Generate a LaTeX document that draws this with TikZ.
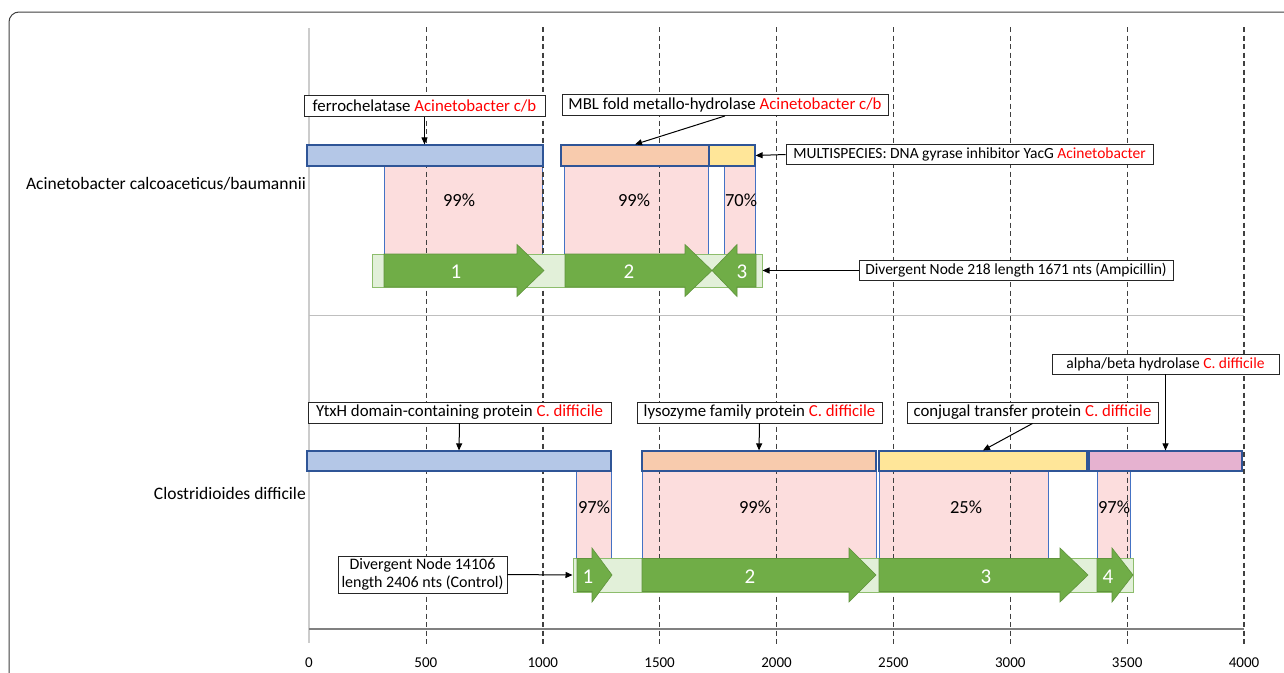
\documentclass[tikz,border=0pt]{standalone}
\usepackage{fontspec}
\setmainfont{Carlito}
\usetikzlibrary{arrows.meta}
\definecolor{barblue}{HTML}{B4C7E7}
\definecolor{barorange}{HTML}{F8CBAD}
\definecolor{baryellow}{HTML}{FFE699}
\definecolor{barpurple}{HTML}{E6B2D0}
\definecolor{edgeblue}{HTML}{2F5597}
\definecolor{pinkfill}{HTML}{FCDDDD}
\definecolor{pinkedge}{HTML}{4472C4}
\definecolor{gdark}{HTML}{70AD47}
\definecolor{glight}{HTML}{E2F0D9}
\definecolor{gridc}{HTML}{404040}
\definecolor{redtxt}{HTML}{FF0000}
\newcommand{\garR}[5]{% x1, x2, yc, headlen, half-head
  \fill[garrow] (#1,#3-16.5) -- (#2-#4,#3-16.5) -- (#2-#4,#3-#5) -- (#2,#3) -- (#2-#4,#3+#5) -- (#2-#4,#3+16.5) -- (#1,#3+16.5) -- cycle;}
\newcommand{\garL}[5]{% x1 (tip), x2 (tail), yc, headlen, half-head
  \fill[garrow] (#2,#3-16.5) -- (#1+#4,#3-16.5) -- (#1+#4,#3-#5) -- (#1,#3) -- (#1+#4,#3+#5) -- (#1+#4,#3+16.5) -- (#2,#3+16.5) -- cycle;}
\begin{document}
\begin{tikzpicture}[x=1pt,y=-1pt,
  bar/.style={draw=edgeblue, line width=1.2pt, inner sep=0pt, minimum height=20pt},
  hit/.style={draw=pinkedge, fill=pinkfill, line width=1pt, inner sep=0pt},
  lab/.style={draw=black!85, fill=white, line width=0.9pt, font=\fontsize{16.8}{18}\selectfont, inner sep=0pt, minimum height=21pt},
  labsm/.style={lab, font=\fontsize{15.5}{17}\selectfont, minimum height=20pt},
  conn/.style={-{Triangle[length=7pt,width=6pt]}, line width=1pt, black},
  pct/.style={font=\fontsize{18.5}{20}\selectfont, inner sep=0pt},
  num/.style={text=white, font=\fontsize{21}{24}\selectfont, inner sep=0pt},
  gdash/.style={gridc, line width=1.1pt, dash pattern=on 5pt off 3.5pt},
  track/.style={draw=gdark!80, fill=glight, line width=1pt, inner sep=0pt},
  garrow/.style={fill=gdark, draw=gdark!85!black, line width=0.6pt},
  rowlab/.style={font=\fontsize{17.5}{19}\selectfont, anchor=east, inner sep=0pt},
  axlab/.style={font=\fontsize{15}{17}\selectfont, inner sep=0pt}
]
\useasboundingbox (0,0) rectangle (1284,672);
\clip (0,0) rectangle (1284,672);
\fill[white] (0,0) rectangle (1284,672);
\draw[gridc, line width=1pt, rounded corners=10pt] (9,12) rectangle (1310,700);

% hit boxes
\node[hit, minimum width=158pt, minimum height=88pt] (h1) at (463,210) {};
\node[hit, minimum width=144pt, minimum height=88pt] (h2) at (636,210) {};
\node[hit, minimum width=31pt, minimum height=88pt] (h3) at (739.5,210) {};
\node[hit, minimum width=35pt, minimum height=87pt] (h4) at (594,514.5) {};
\node[hit, minimum width=234pt, minimum height=87pt] (h5) at (759,514.5) {};
\node[hit, minimum width=169pt, minimum height=87pt] (h6) at (963.5,514.5) {};
\node[hit, minimum width=33pt, minimum height=87pt] (h7) at (1113.5,514.5) {};

% grid
\draw[black!20, line width=1.5pt] (309,28) -- (309,643);
\draw[black!25, line width=1pt] (309,315) -- (1244,315);
\draw[black!50, line width=2pt] (309,629) -- (1244,629);
\foreach \k in {1,...,8} {
  \draw[gdash] ({309.4+\k*116.82},27) -- ({309.4+\k*116.82},645);
}
\foreach \k in {0,...,8} {
  \pgfmathtruncatemacro{\v}{\k*500}
  \node[axlab] (ax\k) at ({309+\k*116.875},663) {\v};
}

% percent labels
\node[pct] (p1) at (459,200) {99\%};
\node[pct] (p2) at (634,200) {99\%};
\node[pct] (p3) at (741,200) {70\%};
\node[pct] (p4) at (594,507) {97\%};
\node[pct] (p5) at (755,507) {99\%};
\node[pct] (p6) at (966,507) {25\%};
\node[pct] (p7) at (1114,507) {97\%};

% bars top
\node[bar, fill=barblue, minimum width=236pt, minimum height=21pt] (ab1) at (425,155.5) {};
\node[bar, fill=barorange, minimum width=148pt, minimum height=21pt] (ab2) at (635,155.5) {};
\node[bar, fill=baryellow, minimum width=46pt, minimum height=21pt] (ab3) at (732,155.5) {};
% bars bottom
\node[bar, fill=barblue, minimum width=304pt] (cb1) at (459,461) {};
\node[bar, fill=barorange, minimum width=234pt] (cb2) at (759,461) {};
\node[bar, fill=baryellow, minimum width=208pt] (cb3) at (983,461) {};
\node[bar, fill=barpurple, minimum width=153pt] (cb4) at (1165.5,461) {};

% tracks
\node[track, minimum width=390pt, minimum height=33pt] (t1) at (567,270.5) {};
\node[track, minimum width=560pt, minimum height=34pt] (t2) at (853,575) {};

% green gene arrows
\garR{384}{544}{270.5}{27}{26}
\garR{565}{712}{270.5}{27}{26}
\garL{712}{756}{270.5}{25}{26}
\garR{577}{612}{575}{20}{27}
\garR{642}{876}{575}{27}{27}
\garR{879}{1088}{575}{28}{27}
\garR{1097}{1133}{575}{21}{27}
\node[num] (n1) at (456,272) {1};
\node[num] (n2) at (629,272) {2};
\node[num] (n3) at (742,272) {3};
\node[num] (n4) at (588,577) {1};
\node[num] (n5) at (750,577) {2};
\node[num] (n6) at (986,577) {3};
\node[num] (n7) at (1108,577) {4};

% row labels
\node[rowlab] (r1) at (306,184) {Acinetobacter calcoaceticus/baumannii};
\node[rowlab] (r2) at (306,493) {Clostridioides difficile};

% annotation boxes
\node[lab, minimum width=241pt] (l1) at (424.5,106) {ferrochelatase \textcolor{redtxt}{Acinetobacter c/b}};
\node[lab, minimum width=326pt] (l2) at (725,105) {MBL fold metallo-hydrolase \textcolor{redtxt}{Acinetobacter c/b}};
\node[labsm, minimum width=367pt] (l3) at (969.5,154.5) {MULTISPECIES: DNA gyrase inhibitor YacG \textcolor{redtxt}{Acinetobacter}};
\node[labsm, minimum width=314pt] (l4) at (1016,270.5) {Divergent Node 218 length 1671 nts (Ampicillin)};
\node[lab, minimum width=303pt] (l5) at (459.5,412.5) {YtxH domain-containing protein \textcolor{redtxt}{C. difficile}};
\node[lab, minimum width=245pt] (l6) at (759.5,412.5) {lysozyme family protein \textcolor{redtxt}{C. difficile}};
\node[lab, minimum width=251pt] (l7) at (1032.5,412.5) {conjugal transfer protein \textcolor{redtxt}{C. difficile}};
\node[labsm, minimum width=227pt] (l8) at (1165.5,364) {alpha/beta hydrolase \textcolor{redtxt}{C. difficile}};
\node[lab, minimum width=169pt, minimum height=37pt, align=center, font=\fontsize{16}{18}\selectfont] (l9) at (422.5,574.5) {Divergent Node 14106\\length 2406 nts (Control)};

% connectors
\draw[conn] (l1.south) -- (l1.south |- ab1.north);
\draw[conn] (l2.south) -- (ab2.north);
\draw[conn] (l3.west) -- (ab3.east);
\draw[conn] (l4.west) -- (t1.east);
\draw[conn] (l5.south) -- (cb1.north);
\draw[conn] (l6.south) -- (cb2.north);
\draw[conn] (l7.south) -- (cb3.north);
\draw[conn] (l8.south) -- (cb4.north);
\draw[conn] (l9.east) -- (t2.west);
\end{tikzpicture}
\end{document}
